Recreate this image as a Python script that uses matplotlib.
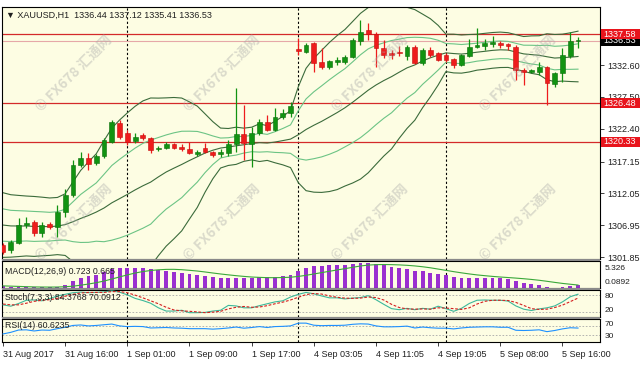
import matplotlib
matplotlib.use("Agg")
import matplotlib.pyplot as plt
from matplotlib.patches import Rectangle
import matplotlib.transforms as mtrans

plt.rcParams['font.family'] = ['Liberation Sans', 'DejaVu Sans']

# ---------------- data ----------------
opens = [1303.8, 1303.0, 1304.1, 1307.0, 1307.4, 1305.7, 1307.2, 1306.7, 1309.0, 1311.8,
         1316.6, 1317.7, 1316.9, 1318.0, 1320.3, 1323.3, 1321.7, 1320.4, 1321.4, 1320.9,
         1319.2, 1319.3, 1320.0, 1319.5, 1319.2, 1318.4, 1319.3, 1318.7, 1318.4, 1318.5,
         1320.0, 1321.6, 1320.0, 1321.7, 1323.5, 1322.2, 1324.3, 1324.9, 1335.2, 1334.7,
         1336.1, 1333.1, 1332.3, 1333.1, 1333.1, 1333.9, 1336.5, 1338.2, 1337.6, 1335.3,
         1334.5, 1334.6, 1334.1, 1335.5, 1332.9, 1335.0, 1334.5, 1334.2, 1333.6, 1332.6,
         1334.1, 1335.5, 1335.7, 1336.0, 1336.1, 1336.0, 1335.5, 1331.8, 1331.5, 1331.5,
         1332.3, 1329.6, 1331.3, 1334.1, 1336.44]
highs = [1304.1, 1304.5, 1308.1, 1308.3, 1307.8, 1307.5, 1307.5, 1310.2, 1312.7, 1317.4,
         1318.7, 1318.5, 1318.3, 1320.9, 1323.8, 1323.8, 1322.2, 1321.7, 1321.7, 1321.1,
         1319.6, 1320.3, 1320.1, 1320.0, 1320.3, 1319.0, 1320.1, 1318.8, 1319.2, 1320.6,
         1328.9, 1326.2, 1322.7, 1324.0, 1324.6, 1325.7, 1325.6, 1326.7, 1337.0, 1336.1,
         1336.3, 1335.3, 1333.4, 1333.9, 1334.2, 1337.0, 1339.8, 1339.4, 1337.9, 1336.6,
         1335.0, 1335.7, 1335.8, 1335.8, 1335.3, 1335.5, 1334.7, 1334.5, 1333.7, 1334.4,
         1336.8, 1338.5, 1336.8, 1337.3, 1336.5, 1336.1, 1335.8, 1332.1, 1332.0, 1333.1,
         1332.5, 1331.5, 1335.3, 1337.9, 1337.12]
lows = [1302.3, 1302.5, 1303.9, 1306.5, 1305.2, 1305.1, 1306.3, 1305.1, 1308.3, 1311.5,
        1316.3, 1315.8, 1316.6, 1317.7, 1320.1, 1320.8, 1319.8, 1320.1, 1320.6, 1318.5,
        1318.8, 1319.2, 1319.2, 1318.8, 1318.4, 1318.0, 1318.5, 1317.9, 1317.9, 1318.0,
        1318.7, 1317.4, 1316.3, 1321.4, 1322.0, 1322.0, 1324.0, 1324.3, 1334.2, 1334.5,
        1331.5, 1331.9, 1331.9, 1332.6, 1332.8, 1333.7, 1335.8, 1336.6, 1332.3, 1333.7,
        1333.6, 1334.1, 1333.4, 1332.8, 1332.6, 1333.9, 1333.3, 1333.1, 1332.1, 1332.5,
        1333.9, 1335.3, 1335.0, 1335.5, 1335.4, 1335.0, 1330.2, 1329.4, 1331.3, 1331.0,
        1326.2, 1329.1, 1329.9, 1333.7, 1335.41]
closes = [1302.6, 1304.3, 1307.0, 1307.3, 1305.7, 1307.0, 1306.7, 1309.1, 1311.8, 1316.6,
          1317.7, 1316.7, 1318.0, 1320.6, 1323.5, 1321.1, 1320.3, 1321.1, 1320.9, 1319.0,
          1319.3, 1320.0, 1319.3, 1319.2, 1318.5, 1318.7, 1318.7, 1318.2, 1318.7, 1320.0,
          1321.6, 1320.1, 1321.7, 1323.5, 1322.2, 1324.3, 1324.9, 1326.0, 1334.9, 1335.8,
          1332.9, 1332.3, 1333.3, 1333.4, 1333.9, 1336.6, 1337.9, 1337.6, 1335.3, 1334.2,
          1334.2, 1334.5, 1335.5, 1332.9, 1335.0, 1334.2, 1333.4, 1333.4, 1332.6, 1334.2,
          1335.5, 1335.8, 1336.1, 1336.3, 1335.8, 1335.7, 1331.8, 1331.5, 1331.8, 1332.3,
          1329.7, 1331.3, 1334.2, 1336.4, 1336.53]

# Bollinger Bands (20): middle line and one standard deviation
bb_mid = [1306.97, 1306.83, 1306.82, 1306.82, 1306.75, 1306.74, 1306.71, 1306.81, 1307.04, 1307.50,
          1308.03, 1308.50, 1309.05, 1309.70, 1310.53, 1311.20, 1311.88, 1312.60, 1313.26, 1313.85,
          1314.69, 1315.47, 1316.09, 1316.68, 1317.32, 1317.91, 1318.51, 1318.96, 1319.31, 1319.48,
          1319.67, 1319.84, 1320.03, 1320.17, 1320.11, 1320.27, 1320.50, 1320.74, 1321.44, 1322.28,
          1322.96, 1323.58, 1324.28, 1324.99, 1325.76, 1326.65, 1327.61, 1328.58, 1329.41, 1330.12,
          1330.75, 1331.47, 1332.16, 1332.63, 1333.27, 1333.77, 1334.19, 1334.56, 1334.45, 1334.37,
          1334.50, 1334.67, 1334.81, 1334.96, 1335.05, 1335.01, 1334.70, 1334.40, 1334.28, 1334.18,
          1333.94, 1333.73, 1333.80, 1333.87, 1333.98]
bb_sd = [2.59, 2.50, 2.45, 2.40, 2.40, 2.35, 2.30, 2.29, 2.47, 3.19,
         3.85, 4.30, 4.67, 5.40, 5.98, 6.30, 6.53, 6.70, 6.80, 6.74,
         6.31, 5.94, 5.66, 5.32, 4.69, 4.06, 3.14, 2.29, 1.60, 1.48,
         1.49, 1.33, 1.31, 1.51, 1.39, 1.66, 1.94, 2.28, 3.84, 4.90,
         5.36, 5.69, 5.97, 6.17, 6.27, 6.47, 6.64, 6.62, 6.36, 6.05,
         5.79, 5.29, 4.85, 4.43, 3.75, 3.13, 2.39, 1.50, 1.55, 1.53,
         1.50, 1.44, 1.44, 1.43, 1.42, 1.39, 1.39, 1.39, 1.50, 1.56,
         1.84, 1.89, 1.88, 1.95, 2.03]

macd = [0.51, 0.26, 0.27, 0.30, 0.20, 0.22, 0.20, 0.38, 0.73, 1.38,
        1.97, 2.32, 2.67, 3.13, 3.68, 3.88, 3.92, 3.98, 3.96, 3.75,
        3.57, 3.44, 3.25, 3.05, 2.80, 2.59, 2.40, 2.18, 2.03, 1.98,
        2.06, 1.97, 2.01, 2.16, 2.15, 2.28, 2.41, 2.57, 3.37, 4.04,
        4.28, 4.37, 4.48, 4.52, 4.53, 4.71, 4.90, 4.97, 4.78, 4.49,
        4.22, 3.98, 3.82, 3.45, 3.29, 3.06, 2.78, 2.53, 2.24, 2.12,
        2.10, 2.09, 2.08, 2.06, 1.99, 1.90, 1.49, 1.14, 0.87, 0.69,
        0.33, 0.17, 0.28, 0.54, 0.723]
macd_signal = [0.50, 0.45, 0.40, 0.35, 0.30, 0.28, 0.27, 0.28, 0.34, 0.44,
               0.63, 0.86, 1.12, 1.44, 1.83, 2.24, 2.63, 2.99, 3.28, 3.48,
               3.62, 3.70, 3.71, 3.64, 3.52, 3.38, 3.20, 3.00, 2.81, 2.64,
               2.48, 2.34, 2.22, 2.15, 2.10, 2.09, 2.12, 2.18, 2.33, 2.55,
               2.81, 3.07, 3.33, 3.59, 3.84, 4.10, 4.36, 4.53, 4.62, 4.64,
               4.62, 4.57, 4.49, 4.37, 4.21, 4.01, 3.76, 3.51, 3.26, 3.03,
               2.82, 2.63, 2.48, 2.34, 2.22, 2.12, 2.01, 1.89, 1.75, 1.59,
               1.39, 1.18, 0.98, 0.82, 0.665]

stoch_k = [45, 40, 50, 62, 63, 60, 68, 78, 84, 90,
           92, 90, 91, 93, 97, 92, 82, 69, 61, 51,
           34, 22, 22, 25, 16, 16, 17, 22, 25, 43,
           41, 34, 34, 42, 49, 56, 60, 74, 84, 91,
           86, 78, 71, 71, 67, 70, 72, 79, 64, 47,
           31, 27, 32, 27, 32, 29, 40, 31, 21, 32,
           50, 62, 63, 62, 62, 59, 41, 29, 24, 30,
           34, 41, 56, 75, 84.38]
stoch_d = [48, 45, 45, 51, 58, 62, 64, 69, 77, 84,
           89, 91, 91, 91, 94, 94, 90, 81, 71, 60,
           49, 36, 26, 23, 21, 19, 16, 18, 21, 30,
           36, 39, 36, 37, 42, 49, 55, 63, 73, 83,
           87, 85, 78, 73, 70, 69, 70, 74, 72, 63,
           47, 35, 30, 29, 30, 29, 34, 33, 31, 28,
           34, 48, 58, 62, 62, 61, 54, 43, 31, 28,
           29, 35, 44, 57, 70.09]
rsi = [35, 42, 52, 53, 48, 52, 51, 58, 64, 72,
       74, 70, 72, 75, 78, 70, 67, 68, 67, 61,
       62, 63, 61, 60, 58, 58, 58, 56, 58, 61,
       65, 60, 63, 67, 63, 67, 68, 70, 82, 82,
       73, 71, 72, 72, 73, 77, 79, 78, 70, 66,
       66, 67, 69, 61, 65, 62, 60, 60, 57, 61,
       64, 65, 66, 66, 64, 64, 51, 50, 51, 53,
       45, 50, 57, 62, 60.62]

level_prices = [1337.58, 1326.48, 1320.33]
last_price = 1336.53
price_ticks = [1332.60, 1327.50, 1322.40, 1317.15, 1312.05, 1306.95, 1301.85]
time_labels = ["31 Aug 2017", "31 Aug 16:00", "1 Sep 01:00", "1 Sep 09:00", "1 Sep 17:00",
               "4 Sep 03:05", "4 Sep 11:05", "4 Sep 19:05", "5 Sep 08:00", "5 Sep 16:00"]
time_label_bars = [0, 8, 16, 24, 32, 40, 48, 56, 64, 72]
day_breaks = [16, 38, 57]

# ---------------- layout ----------------
W, H = 640, 368
fig = plt.figure(figsize=(W / 100, H / 100), dpi=100, facecolor='white')


def rect(x0, y0, x1, y1):
    return [x0 / W, 1 - y1 / H, (x1 - x0) / W, (y1 - y0) / H]


def ftext(x, y, s, **kw):
    return fig.text(x / W, 1 - y / H, s, **kw)


BG = '#fdfde3'
ax = fig.add_axes(rect(2, 7, 600, 259), facecolor=BG)
ax_m = fig.add_axes(rect(2, 261, 600, 288), facecolor=BG)
ax_s = fig.add_axes(rect(2, 290, 600, 317), facecolor=BG)
ax_r = fig.add_axes(rect(2, 319, 600, 342), facecolor=BG)
panels = [ax, ax_m, ax_s, ax_r]

n = len(closes)
xs = list(range(n))
XLIM = (-0.13, 76.83)
for a in panels:
    a.set_xlim(*XLIM)
    for sp in a.spines.values():
        sp.set_linewidth(0.8)
        sp.set_color('black')
    for b in day_breaks:
        a.axvline(b, color='black', lw=0.8, ls=(0, (2, 2)), zorder=1)

# separators between panels
for y0, y1 in [(259, 261), (288, 290), (317, 319)]:
    fig.add_artist(Rectangle((2 / W, 1 - y1 / H), 598 / W, (y1 - y0) / H,
                             transform=fig.transFigure, fc='#8a8a8a', ec='none'))

# ---------------- main price panel ----------------
ax.set_ylim(1301.53, 1341.91)

upper2 = [m + 2 * s for m, s in zip(bb_mid, bb_sd)]
lower2 = [m - 2 * s for m, s in zip(bb_mid, bb_sd)]
upper1 = [m + s for m, s in zip(bb_mid, bb_sd)]
lower1 = [m - s for m, s in zip(bb_mid, bb_sd)]
inner_c = '#6cc485'
outer_c = '#3b6b3b'
ax.plot(xs, upper1, color=inner_c, lw=0.8, zorder=2)
ax.plot(xs, lower1, color=inner_c, lw=0.8, zorder=2)
ax.plot(xs, upper2, color=outer_c, lw=0.8, zorder=2)
ax.plot(xs, lower2, color=outer_c, lw=0.8, zorder=2)
ax.plot(xs, bb_mid, color=outer_c, lw=0.8, zorder=2)

for p in level_prices:
    ax.axhline(p, color='#d42a2a', lw=0.9, zorder=1.5)
ax.axhline(last_price, color='#e6a8a8', lw=0.8, zorder=1.5)

up_c, up_e = '#119311', '#0b6e0b'
dn_c, dn_e = '#ee1c1c', '#c40e0e'
bottoms, heights, fcs, ecs = [], [], [], []
for o, h, l, c in zip(opens, highs, lows, closes):
    bottoms.append(min(o, c))
    heights.append(max(abs(c - o), 0.12))
    fcs.append(up_c if c >= o else dn_c)
    ecs.append(up_e if c >= o else dn_e)
ax.vlines(xs, lows, highs, colors=fcs, lw=0.9, zorder=3)
ax.bar(xs, heights, bottom=bottoms, width=0.62, color=fcs, edgecolor=ecs,
       linewidth=0.4, zorder=4)

ax.set_yticks(price_ticks)
ax.set_yticklabels([f"{t:.2f}" for t in price_ticks])
ax.yaxis.tick_right()
ax.tick_params(axis='y', length=3, width=0.6, pad=2, labelsize=6.5, colors='#202020')
ax.tick_params(axis='x', bottom=False, labelbottom=False)

# price tags
bt = mtrans.blended_transform_factory(fig.transFigure, ax.transData)
hh = 0.8
fig.add_artist(Rectangle((601 / W, last_price - hh), 39 / W, 2 * hh, transform=bt,
                         fc='black', ec='none', zorder=5))
fig.text(603 / W, last_price, f"{last_price:.2f}", transform=bt, color='white',
         fontsize=6.5, va='center', ha='left', zorder=6)
for p in level_prices:
    fig.add_artist(Rectangle((601 / W, p - hh), 39 / W, 2 * hh, transform=bt,
                             fc='#e8141c', ec='none', zorder=7))
    fig.text(603 / W, p, f"{p:.2f}", transform=bt, color='white',
             fontsize=6.5, va='center', ha='left', zorder=8)

# ---------------- MACD ----------------
ax_m.set_ylim(0.0892, 5.326)
ax_m.bar(xs, macd, width=0.5, color='#9a2fd0', zorder=2)
ax_m.plot(xs, macd_signal, color='#3aa83a', lw=0.8, zorder=3)
ax_m.set_xticks([])
ax_m.set_yticks([])

# ---------------- Stochastic ----------------
ax_s.set_ylim(0, 100)
for lv in (80, 20):
    ax_s.axhline(lv, color='#a8a8a8', lw=0.6, ls=(0, (2, 2)), zorder=1)
ax_s.plot(xs, stoch_k, color='#3cb89a', lw=0.8, zorder=3)
ax_s.plot(xs, stoch_d, color='#d42020', lw=0.8, ls=(0, (2.5, 1.5)), zorder=3)
ax_s.set_xticks([])
ax_s.set_yticks([])

# ---------------- RSI ----------------
ax_r.set_ylim(0, 100)
for lv in (70, 30):
    ax_r.axhline(lv, color='#a8a8a8', lw=0.6, ls=(0, (2, 2)), zorder=1)
ax_r.plot(xs, rsi, color='#1e90ff', lw=0.8, zorder=3)
ax_r.set_yticks([])
ax_r.set_xticks(time_label_bars)
ax_r.set_xticklabels(time_labels, ha='left')
ax_r.tick_params(axis='x', length=3, width=0.6, pad=3, labelsize=6.5, colors='#202020')

# ---------------- texts ----------------
tc = '#202020'
ftext(6, 15, "\u25bc XAUUSD,H1  1336.44 1337.12 1335.41 1336.53", fontsize=6.5,
      color=tc, va='center', ha='left')
ftext(5, 271, "MACD(12,26,9) 0.723 0.665", fontsize=6.3, color=tc, va='center', zorder=10)
ftext(5, 298, "Stoch(7,3,3) 84.3768 70.0912", fontsize=6.3, color=tc, va='center', zorder=10)
ftext(5, 326, "RSI(14) 60.6235", fontsize=6.3, color=tc, va='center', zorder=10)

# indicator scale labels (right side)
for s, y in [("5.326", 269), ("0.0892", 282),
             ("80", 297), ("20", 311),
             ("70", 325), ("30", 337)]:
    ftext(605, y, s, fontsize=6.0, color=tc, va='center', ha='left')

# watermarks
wm_centers = [(74, 73), (222, 73), (370, 73), (518, 73),
              (74, 222), (222, 222), (370, 222), (518, 222)]
for cx, cy in wm_centers:
    ftext(cx, cy, "\u00a9 FX678 \u6c47\u901a\u7f51", fontsize=10, rotation=45,
          ha='center', va='center', rotation_mode='anchor', color='#a8a8a8',
          alpha=0.4, fontweight='bold', zorder=20,
          family=['Noto Sans CJK SC', 'DejaVu Sans'])

fig.savefig('out.png', dpi=100, facecolor='white')
